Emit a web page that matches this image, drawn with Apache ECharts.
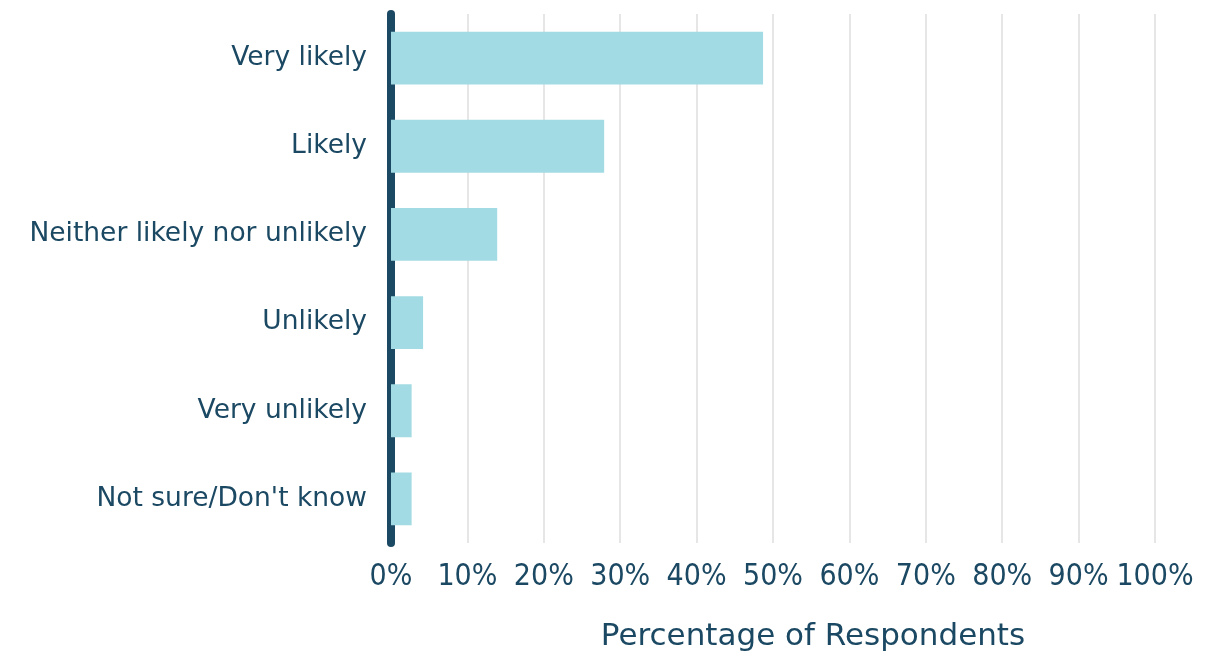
<!DOCTYPE html>
<html><head><meta charset="utf-8">
<script src="https://cdn.jsdelivr.net/npm/echarts@6/dist/echarts.min.js"></script>
<style>html,body{margin:0;padding:0;background:#fff}#c{width:1211px;height:657px}</style>
</head><body><div id="c"></div>
<script>
const categories = ["Very likely","Likely","Neither likely nor unlikely","Unlikely","Very unlikely","Not sure/Don't know"];
const values = [48.7, 27.9, 13.9, 4.2, 2.7, 2.7];
const xTicks = [0,10,20,30,40,50,60,70,80,90,100];
const xTitle = "Percentage of Respondents";
const dark = '#1b4862';
const chart = echarts.init(document.getElementById('c'));
chart.setOption({
  animation:false,
  grid:{left:391,right:56,top:14,bottom:109},
  xAxis:{type:'value',min:xTicks[0],max:xTicks[xTicks.length-1],interval:10,
    axisLine:{show:false},axisTick:{show:false},
    splitLine:{show:true,lineStyle:{color:'#e6e6e6',width:2}},
    axisLabel:{formatter:v=>v+'%',color:dark,fontFamily:'DejaVu Sans Condensed',fontSize:30,margin:19},
    name:xTitle,nameLocation:'middle',nameGap:78,
    nameTextStyle:{color:dark,fontFamily:'DejaVu Sans',fontSize:31,padding:[0,0,0,80]}},
  yAxis:{type:'category',data:categories,inverse:true,
    axisLine:{show:true,lineStyle:{color:dark,width:8,cap:'round'}},
    axisTick:{show:false},
    axisLabel:{color:dark,fontFamily:'DejaVu Sans',fontSize:26.5,margin:24}},
  series:[{type:'bar',data:values,barWidth:'60%',itemStyle:{color:'#a2dbe3'}}]
});
</script></body></html>
